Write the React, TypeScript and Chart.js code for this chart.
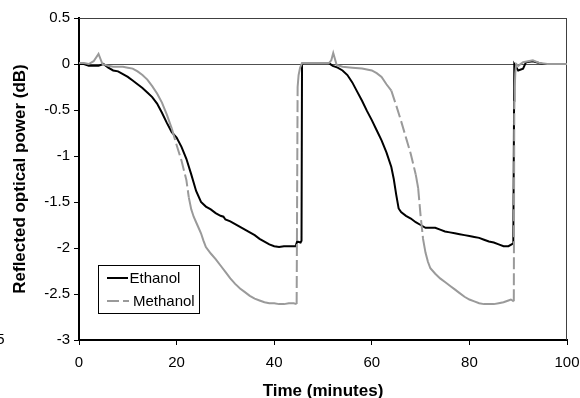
import React, { useEffect, useRef } from "react";
import { Chart, registerables } from "chart.js";

Chart.register(...registerables);

const ethanolTime = [0, 1, 2, 3, 4, 5, 6, 7, 8, 9, 10, 11, 12, 13, 14, 15, 16, 17, 18, 19, 20, 21, 22, 23, 24, 25, 26, 27, 28, 29, 29.6, 30, 31, 32, 33, 34, 35, 36, 37, 38, 39, 40, 41, 42, 43, 44.4, 44.7, 45.4, 45.6, 45.7, 46, 48, 50, 51.2, 52, 53, 54, 55, 56, 57, 58, 59, 60, 61, 62, 63, 64, 64.5, 65, 65.5, 66, 67, 68, 69, 70, 71, 72, 73, 74, 75, 76, 77, 78, 79, 80, 81, 82, 83, 84, 85, 86, 87, 88, 89, 89.2, 90, 91, 91.6, 93, 95, 100];
const ethanolDb = [0, 0, -0.02, -0.02, -0.02, 0, -0.04, -0.07, -0.08, -0.11, -0.14, -0.18, -0.22, -0.26, -0.31, -0.36, -0.43, -0.53, -0.64, -0.74, -0.8, -0.9, -1.03, -1.2, -1.38, -1.5, -1.55, -1.58, -1.62, -1.65, -1.66, -1.69, -1.71, -1.74, -1.77, -1.8, -1.83, -1.86, -1.9, -1.93, -1.96, -1.98, -1.99, -1.98, -1.98, -1.98, -1.93, -1.94, -1.92, 0, 0.01, 0.01, 0.01, 0.01, -0.02, -0.04, -0.07, -0.12, -0.2, -0.3, -0.4, -0.51, -0.61, -0.72, -0.83, -0.96, -1.12, -1.25, -1.42, -1.57, -1.61, -1.65, -1.68, -1.72, -1.75, -1.78, -1.78, -1.78, -1.8, -1.82, -1.83, -1.84, -1.85, -1.86, -1.87, -1.88, -1.89, -1.91, -1.93, -1.94, -1.96, -1.98, -1.98, -1.95, 0, -0.07, -0.05, 0.02, 0.03, 0, 0];

const methanolTime = [0, 1, 2, 3, 4, 4.8, 6, 7, 8, 9, 10, 11, 12, 13, 14, 15, 16, 17, 18, 19, 20, 21, 22, 22.5, 23, 23.5, 24, 24.5, 25, 25.5, 26, 27, 28, 29, 30, 31, 32, 33, 34, 35, 36, 37, 38, 39, 40, 41, 42, 43, 44, 44.6, 44.8, 45, 45.3, 45.7, 48, 51.2, 51.7, 52.1, 52.8, 54, 56, 58, 60, 61, 62, 63, 64, 65, 66, 67, 68, 69, 69.5, 70, 70.5, 71, 71.5, 72, 73, 74, 75, 76, 77, 78, 79, 80, 81, 82, 83, 84, 85, 86, 87, 88, 88.5, 89.1, 89.2, 89.3, 89.4, 89.6, 90, 91, 93, 94.4, 96, 100];
const methanolDb = [0.01, 0.01, 0, 0.03, 0.11, 0, -0.02, -0.03, -0.03, -0.03, -0.04, -0.05, -0.08, -0.12, -0.17, -0.24, -0.32, -0.42, -0.55, -0.7, -0.88, -1.05, -1.26, -1.45, -1.58, -1.66, -1.72, -1.78, -1.84, -1.92, -1.99, -2.06, -2.12, -2.19, -2.26, -2.33, -2.39, -2.44, -2.48, -2.52, -2.55, -2.57, -2.59, -2.6, -2.6, -2.61, -2.61, -2.6, -2.6, -2.61, -0.25, -0.12, -0.04, 0.01, 0.01, 0.01, 0.04, 0.12, -0.01, -0.03, -0.04, -0.05, -0.07, -0.1, -0.14, -0.22, -0.29, -0.45, -0.62, -0.8, -0.98, -1.2, -1.35, -1.65, -1.9, -2.05, -2.15, -2.22, -2.28, -2.33, -2.37, -2.41, -2.45, -2.49, -2.53, -2.56, -2.58, -2.6, -2.61, -2.61, -2.61, -2.6, -2.59, -2.57, -2.56, -2.58, -0.4, -0.25, -0.1, 0, -0.02, 0.02, 0.04, 0.01, 0, 0];

const seriesNames = ["Ethanol", "Methanol"];
const xTickValues = [0, 20, 40, 60, 80, 100];
const yTickValues = [0.5, 0, -0.5, -1, -1.5, -2, -2.5, -3];
const xTitle = "Time (minutes)";
const yTitle = "Reflected optical power (dB)";
const strayLabel = "5";

const FONT = "'Liberation Sans', Arial, sans-serif";
const METHANOL_COLOR = "#9a9a9a";

const toPoints = (xs: number[], ys: number[]) => xs.map((x, i) => ({ x, y: ys[i] }));

const framePlugin = {
  id: "frame",
  beforeDatasetsDraw(chart: any) {
    const { ctx, chartArea: a } = chart;
    ctx.save();
    ctx.strokeStyle = "#404040";
    ctx.lineWidth = 1;
    ctx.beginPath();
    ctx.moveTo(a.left, Math.round(a.top) + 0.5);
    ctx.lineTo(a.right, Math.round(a.top) + 0.5);
    ctx.moveTo(Math.round(a.right) - 0.5, a.top);
    ctx.lineTo(Math.round(a.right) - 0.5, a.bottom);
    ctx.stroke();
    ctx.restore();
  },
  afterDraw(chart: any) {
    const { ctx } = chart;
    ctx.save();
    const bx = 98.5, by = 265.5, bw = 101, bh = 48;
    ctx.fillStyle = "#fff";
    ctx.fillRect(bx, by, bw, bh);
    ctx.strokeStyle = "#000";
    ctx.lineWidth = 1;
    ctx.strokeRect(bx, by, bw, bh);
    ctx.font = `15px ${FONT}`;
    ctx.textBaseline = "middle";
    ctx.textAlign = "left";
    ctx.fillStyle = "#000";
    ctx.lineWidth = 2;
    ctx.strokeStyle = "#000";
    ctx.setLineDash([]);
    ctx.beginPath();
    ctx.moveTo(107, 278);
    ctx.lineTo(128, 278);
    ctx.stroke();
    ctx.fillText(seriesNames[0], 129.5, 278.5);
    ctx.strokeStyle = METHANOL_COLOR;
    ctx.setLineDash([12, 4]);
    ctx.beginPath();
    ctx.moveTo(107, 301);
    ctx.lineTo(129, 301);
    ctx.stroke();
    ctx.setLineDash([]);
    ctx.fillText(seriesNames[1], 133, 301.5);
    ctx.textAlign = "right";
    ctx.fillText(strayLabel, 4.5, 340);
    ctx.restore();
  },
};

export default function App() {
  const ref = useRef<HTMLCanvasElement | null>(null);

  useEffect(() => {
    if (!ref.current) return;
    const chart = new Chart(ref.current, {
      type: "line",
      data: {
        datasets: [
          {
            label: seriesNames[0],
            data: toPoints(ethanolTime, ethanolDb),
            borderColor: "#000",
            borderWidth: 2,
            pointRadius: 0,
            tension: 0,
            order: 1,
          },
          {
            label: seriesNames[1],
            data: toPoints(methanolTime, methanolDb),
            borderColor: METHANOL_COLOR,
            borderWidth: 2,
            pointRadius: 0,
            tension: 0,
            order: 0,
            segment: {
              borderDash: (c: any) => {
                const dx = c.p1.x - c.p0.x;
                const dy = c.p1.y - c.p0.y;
                const len = Math.hypot(dx, dy);
                return len > 15.5 && Math.abs(dy) > 2.5 * Math.abs(dx) ? [12, 4] : [];
              },
            },
          },
        ],
      },
      options: {
        responsive: false,
        animation: false,
        devicePixelRatio: 1,
        layout: { padding: { top: 18, right: 13, left: 0, bottom: 0 } },
        plugins: { legend: { display: false }, tooltip: { enabled: false } },
        scales: {
          x: {
            type: "linear",
            min: 0,
            max: 100,
            afterBuildTicks: (s: any) => {
              s.ticks = xTickValues.map((v) => ({ value: v }));
            },
            afterFit: (s: any) => {
              s.height = 58;
              s.paddingLeft = 0;
              s.paddingRight = 0;
            },
            ticks: {
              color: "#000",
              font: { family: FONT, size: 15 },
              padding: 9,
              maxRotation: 0,
              callback: (v: any) => String(v),
            },
            grid: { drawOnChartArea: false, tickLength: 5, tickColor: "#000", tickWidth: 1 },
            border: { display: true, color: "#000", width: 2 },
            title: {
              display: true,
              text: xTitle,
              color: "#000",
              font: { family: FONT, size: 17, weight: "bold", lineHeight: 1 },
              padding: { top: 0, bottom: -2 },
            },
          },
          y: {
            type: "linear",
            min: -3,
            max: 0.5,
            afterBuildTicks: (s: any) => {
              s.ticks = yTickValues.map((v) => ({ value: v }));
            },
            afterFit: (s: any) => {
              s.width = 79;
              s.paddingTop = 0;
              s.paddingBottom = 0;
            },
            ticks: {
              color: "#000",
              font: { family: FONT, size: 15 },
              padding: 4,
              callback: (v: any) => String(v),
            },
            grid: {
              drawOnChartArea: true,
              color: (c: any) => (c.tick && c.tick.value === 0 ? "#505050" : "rgba(0,0,0,0)"),
              tickLength: 5,
              tickColor: "#000",
              tickWidth: 1,
            },
            border: { display: true, color: "#000", width: 2 },
            title: {
              display: true,
              text: yTitle,
              color: "#000",
              font: { family: FONT, size: 17, weight: "bold", lineHeight: 1.2 },
              padding: { top: 10, bottom: 0 },
            },
          },
        },
      },
      plugins: [framePlugin],
    });
    return () => chart.destroy();
  }, []);

  return (
    <div style={{ position: "fixed", left: 0, top: 0, width: 580, height: 398, background: "#fff" }}>
      <canvas ref={ref} width={580} height={398} style={{ display: "block" }} />
    </div>
  );
}
